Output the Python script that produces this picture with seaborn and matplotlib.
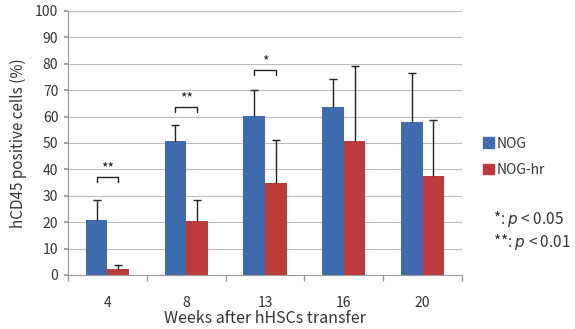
import matplotlib
matplotlib.use("Agg")
import matplotlib.pyplot as plt
import seaborn as sns
import pandas as pd
import numpy as np

weeks = ["4", "8", "13", "16", "20"]
strains = ["NOG", "NOG-hr"]
nog_mean = [20.7, 50.7, 60.2, 63.7, 58.1]
nog_sd = [7.7, 6.0, 10.0, 10.5, 18.3]
noghr_mean = [2.2, 20.3, 34.7, 50.9, 37.6]
noghr_sd = [1.5, 8.0, 16.3, 28.4, 21.1]

# significance brackets: (category index, bracket height, label)
sig_pos = [0, 1, 2]
sig_height = [37.0, 63.5, 77.5]
sig_label = ["**", "**", "*"]

palette = {"NOG": "#3D6BAE", "NOG-hr": "#BF3B3B"}

df = pd.DataFrame({
    "week": weeks * 2,
    "strain": [strains[0]] * len(weeks) + [strains[1]] * len(weeks),
    "value": nog_mean + noghr_mean,
})

sns.set_theme(style="white")
plt.rcParams["font.family"] = ["Noto Sans CJK JP", "DejaVu Sans"]

fig = plt.figure(figsize=(5.75, 3.29), dpi=100)
ax = fig.add_axes([68 / 575, 1 - 275 / 329, 394 / 575, 264 / 329])

width = 0.55
sns.barplot(data=df, x="week", y="value", hue="strain", order=weeks,
            hue_order=strains, palette=palette, width=width, saturation=1,
            errorbar=None, ax=ax, legend=False, zorder=2, linewidth=0,
            gap=0)

# upper-only error bars placed at each bar centre
for patch_group, sds in zip(ax.containers, [nog_sd, noghr_sd]):
    for bar, sd in zip(patch_group, sds):
        cx = bar.get_x() + bar.get_width() / 2
        h = bar.get_height()
        _, caps, _ = ax.errorbar(cx, h, yerr=[[0], [sd]], fmt="none",
                                 ecolor="#222222", elinewidth=1.0, capsize=3,
                                 capthick=1.0, zorder=3)
        caps[0].set_visible(False)

# brackets marking significant differences
for i, y, lab in zip(sig_pos, sig_height, sig_label):
    b1 = ax.containers[0][i]
    b2 = ax.containers[1][i]
    x1 = b1.get_x() + b1.get_width() / 2
    x2 = b2.get_x() + b2.get_width() / 2
    ax.plot([x1, x1, x2, x2], [y - 1.8, y, y, y - 1.8], color="#222222",
            lw=1.0, zorder=3)
    ax.text((x1 + x2) / 2, y + 0.8, lab, ha="center", va="bottom",
            fontsize=10, color="#222222")

ax.set_ylim(0, 100)
ax.set_xlim(-0.5, len(weeks) - 0.5)
ax.set_yticks(np.arange(0, 101, 10))
ax.yaxis.grid(True, color="#BBBBBB", lw=0.8)
ax.set_axisbelow(True)

for s in ["top", "right"]:
    ax.spines[s].set_visible(False)
for s in ["left", "bottom"]:
    ax.spines[s].set_color("#999999")
    ax.spines[s].set_linewidth(0.8)

ax.tick_params(axis="y", which="both", left=True, length=3, color="#999999",
               labelsize=10, labelcolor="#333333", pad=4)
ax.tick_params(axis="x", which="major", bottom=False, labelsize=10,
               labelcolor="#333333", pad=9)
ax.set_xticks(np.arange(-0.5, len(weeks)), minor=True)
ax.tick_params(axis="x", which="minor", bottom=True, length=4,
               color="#999999")

ax.set_xlabel("Weeks after hHSCs transfer", fontsize=11.5, color="#333333",
              labelpad=0)
ax.set_ylabel("hCD45 positive cells (%)", fontsize=11, color="#333333",
              labelpad=6)

# legend
handles = [plt.Rectangle((0, 0), 1, 1, color=palette[s]) for s in strains]
fig.legend(handles, strains, loc="upper left",
           bbox_to_anchor=(470 / 575, 1 - 124 / 329),
           frameon=False, fontsize=10, handlelength=0.8, handleheight=0.8,
           handletextpad=0.25, labelspacing=0.9, labelcolor="#333333")

fig.text(493 / 575, 1 - 219 / 329, r"*: $\it{p}$ < 0.05", fontsize=11,
         color="#333333", va="center", ha="left")
fig.text(493 / 575, 1 - 242 / 329, r"**: $\it{p}$ < 0.01", fontsize=11,
         color="#333333", va="center", ha="left")

fig.savefig("out.png", dpi=100)
